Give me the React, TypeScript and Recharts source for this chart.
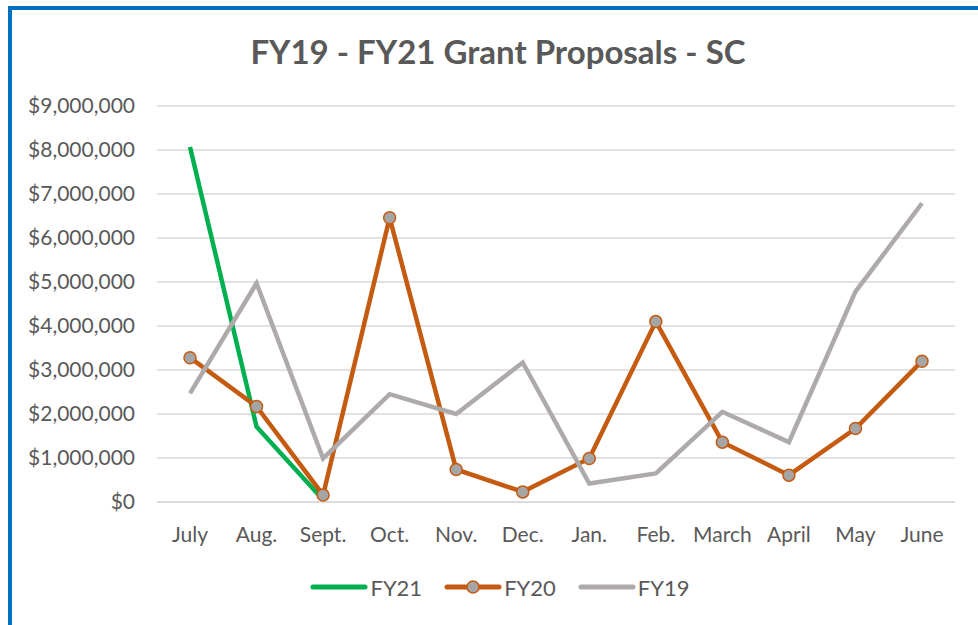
import React from 'react';
import { LineChart, Line, XAxis, YAxis, CartesianGrid, Legend } from 'recharts';

const months = ['July', 'Aug.', 'Sept.', 'Oct.', 'Nov.', 'Dec.', 'Jan.', 'Feb.', 'March', 'April', 'May', 'June'];
const fy21: (number | null)[] = [8070000, 1710000, 50000, null, null, null, null, null, null, null, null, null];
const fy20: number[] = [3280000, 2170000, 160000, 6460000, 740000, 230000, 990000, 4100000, 1360000, 610000, 1670000, 3200000];
const fy19: number[] = [2470000, 4970000, 990000, 2450000, 2000000, 3170000, 420000, 650000, 2050000, 1360000, 4780000, 6790000];
const yTicks = [0, 1000000, 2000000, 3000000, 4000000, 5000000, 6000000, 7000000, 8000000, 9000000];

const data = months.map((m, i) => ({ month: m, FY21: fy21[i], FY20: fy20[i], FY19: fy19[i] }));

const GREEN = '#00B050';
const ORANGE = '#C55A11';
const GRAY = '#AEAAAA';
const MARKER = '#A5A5A5';
const TEXT = '#595959';
const FONT = 'Lato, "Open Sans", sans-serif';

const fmt = (v: number) => '$' + v.toLocaleString('en-US');

const legendItems = [
  { name: 'FY21', color: GREEN, marker: false },
  { name: 'FY20', color: ORANGE, marker: true },
  { name: 'FY19', color: GRAY, marker: false },
];

const renderLegend = () => (
  <div style={{ height: 30, display: 'flex', justifyContent: 'center', alignItems: 'center', fontFamily: FONT }}>
    {legendItems.map((it, i) => (
      <div key={it.name} style={{ display: 'flex', alignItems: 'center', marginLeft: i === 0 ? 0 : 22 }}>
        <svg width={58} height={16} style={{ display: 'block' }}>
          <line x1={3} y1={8} x2={55} y2={8} stroke={it.color} strokeWidth={5} strokeLinecap="round" />
          {it.marker && <circle cx={29} cy={8} r={6} fill={MARKER} stroke={ORANGE} strokeWidth={1.5} />}
        </svg>
        <span style={{ fontSize: 22, color: TEXT, marginLeft: 2 }}>{it.name}</span>
      </div>
    ))}
  </div>
);

export default function App() {
  return (
    <div style={{ position: 'absolute', left: 8, top: 6, width: 970, height: 619, overflow: 'hidden', background: '#fff' }}>
      <div style={{ position: 'absolute', left: 0, top: 0, width: 1100, height: 800, border: '4px solid #0070C0', boxSizing: 'border-box' }} />
      <div style={{ position: 'absolute', left: 0, top: 25, width: 980, textAlign: 'center', fontFamily: FONT, fontWeight: 700, fontSize: 33, lineHeight: '40px', color: TEXT }}>
        FY19 - FY21 Grant Proposals - SC
      </div>
      <div style={{ position: 'absolute', left: 0, top: 0 }}>
        <LineChart width={970} height={619} data={data} margin={{ top: 100, right: 23, left: 9, bottom: 63 }}>
          <CartesianGrid vertical={false} stroke="#D9D9D9" strokeWidth={1.5} />
          <XAxis
            dataKey="month"
            axisLine={{ stroke: '#D9D9D9', strokeWidth: 1.5 }}
            tickLine={false}
            height={30}
            padding={{ left: 33, right: 33 }}
            tickMargin={19}
            interval={0}
            tick={{ fill: TEXT, fontSize: 21, fontFamily: FONT }}
          />
          <YAxis
            width={140}
            domain={[0, 9000000]}
            ticks={yTicks}
            tickFormatter={fmt}
            axisLine={false}
            tickLine={false}
            tickMargin={16}
            interval={0}
            tick={{ fill: TEXT, fontSize: 21, fontFamily: FONT }}
          />
          <Legend verticalAlign="bottom" content={renderLegend} wrapperStyle={{ top: 566, left: 0, width: 984 }} />
          <Line type="linear" dataKey="FY21" stroke={GREEN} strokeWidth={4.5} dot={false} isAnimationActive={false} connectNulls={false} />
          <Line type="linear" dataKey="FY20" stroke={ORANGE} strokeWidth={4.5} dot={{ r: 6, fill: MARKER, stroke: ORANGE, strokeWidth: 1.5 }} activeDot={false} isAnimationActive={false} />
          <Line type="linear" dataKey="FY19" stroke={GRAY} strokeWidth={4.5} dot={false} isAnimationActive={false} />
        </LineChart>
      </div>
    </div>
  );
}
